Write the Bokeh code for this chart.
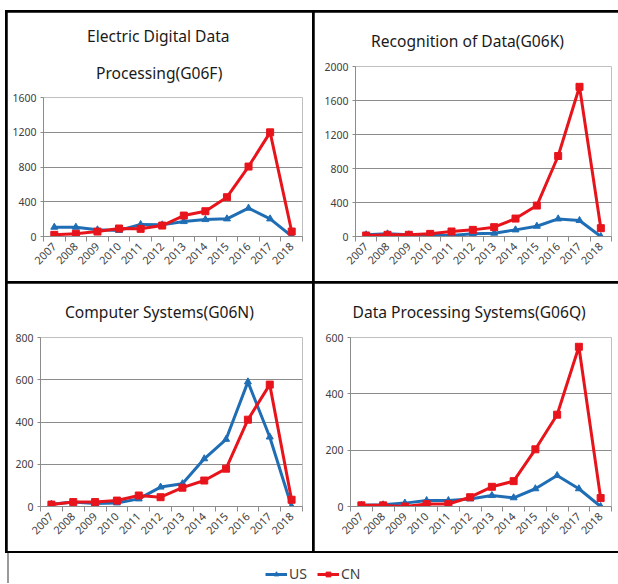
from bokeh.plotting import figure
from bokeh.models import (Range1d, FixedTicker, Title, Legend, LegendItem, ColumnDataSource)
from bokeh.layouts import column, row
from bokeh.embed import file_html
from bokeh.resources import INLINE

years = ["2007", "2008", "2009", "2010", "2011", "2012", "2013", "2014", "2015", "2016", "2017", "2018"]

g06f_us = [107, 107, 77, 70, 138, 134, 172, 195, 203, 326, 203, 4]
g06f_cn = [19, 31, 57, 92, 88, 126, 241, 291, 452, 805, 1199, 57]

g06k_us = [20, 31, 20, 12, 12, 31, 39, 78, 121, 207, 188, 0]
g06k_cn = [12, 20, 20, 31, 59, 78, 110, 211, 364, 947, 1761, 98]

g06n_us = [11, 21, 14, 17, 36, 92, 108, 226, 318, 590, 329, 0]
g06n_cn = [9, 21, 21, 28, 52, 44, 89, 123, 179, 411, 577, 32]

g06q_us = [4, 6, 12, 21, 21, 27, 39, 31, 63, 110, 63, 0]
g06q_cn = [4, 4, 0, 9, 9, 33, 70, 90, 203, 326, 567, 30]

titles = [["Electric Digital Data", "Processing(G06F)"],
          ["Recognition of Data(G06K)"],
          ["Computer Systems(G06N)"],
          ["Data Processing Systems(G06Q)"]]
y_max = [1600, 2000, 800, 600]
y_step = [400, 400, 200, 200]
series_names = ["US", "CN"]

US_COLOR = "#1F6EB5"
CN_COLOR = "#E8141C"
FONT = "Noto Sans"
GRID = "#8C8C8C"
TXT = "#404040"
TFS = "15.6px"


def panel(w, h, tlines, ymax, ystep, us, cn, borders, offsets, standoffs):
    bl, br, bt, bb = borders
    p = figure(width=w, height=h, output_backend="svg", toolbar_location=None,
               x_range=Range1d(-0.5, len(years) - 0.5), y_range=Range1d(0, ymax),
               min_border_left=bl, min_border_right=br, min_border_top=bt, min_border_bottom=bb)
    p.outline_line_color = None
    p.background_fill_color = "white"
    p.border_fill_color = "white"
    xs = list(range(len(years)))
    src = ColumnDataSource(dict(x=xs, us=us, cn=cn))
    p.line("x", "us", source=src, color=US_COLOR, line_width=3)
    p.scatter("x", "us", source=src, marker="triangle", size=7, color=US_COLOR)
    p.line("x", "cn", source=src, color=CN_COLOR, line_width=3)
    p.scatter("x", "cn", source=src, marker="square", size=7, color=CN_COLOR)

    p.xaxis.ticker = FixedTicker(ticks=xs, minor_ticks=[i - 0.5 for i in range(len(years) + 1)])
    p.xaxis.major_label_overrides = {i: y for i, y in enumerate(years)}
    p.xaxis.major_label_orientation = 0.785
    p.xaxis.major_tick_line_color = None
    p.xaxis.minor_tick_line_color = GRID
    p.xaxis.minor_tick_out = 5
    p.xaxis.minor_tick_in = 0
    p.xaxis.axis_line_color = GRID
    p.xaxis.major_label_standoff = 2
    p.xaxis.major_label_text_font = FONT
    p.xaxis.major_label_text_font_size = "11px"
    p.xaxis.major_label_text_color = TXT

    p.yaxis.ticker = FixedTicker(ticks=list(range(0, ymax + 1, ystep)))
    p.yaxis.minor_tick_line_color = None
    p.yaxis.major_tick_line_color = GRID
    p.yaxis.major_tick_out = 3
    p.yaxis.major_tick_in = 0
    p.yaxis.axis_line_color = GRID
    p.yaxis.major_label_standoff = 4
    p.yaxis.major_label_text_font = FONT
    p.yaxis.major_label_text_font_size = "10.5px"
    p.yaxis.major_label_text_color = TXT

    p.xgrid.grid_line_color = None
    p.ygrid.grid_line_color = GRID
    p.ygrid.grid_line_width = 1

    # first line is the plot's own title (outermost); further lines sit closer to the frame
    p.title.text = tlines[0]
    p.title.align = "left"
    p.title.offset = offsets[0]
    p.title.standoff = standoffs[0]
    p.title.text_font = FONT
    p.title.text_font_size = TFS
    p.title.text_font_style = "normal"
    p.title.text_color = "#1A1A1A"
    for t, off, so in zip(tlines[1:], offsets[1:], standoffs[1:]):
        p.add_layout(Title(text=t, align="left", offset=off, standoff=so,
                           text_font=FONT, text_font_size=TFS, text_font_style="normal",
                           text_color="#1A1A1A"), "above")
    return p


p1 = panel(305, 269, titles[0], y_max[0], y_step[0], g06f_us, g06f_cn, (36, 10, 85, 45), [43.5, 52.5], [0, 27])
p2 = panel(304, 269, titles[1], y_max[1], y_step[1], g06k_us, g06k_cn, (41, 7, 54, 45), [15.5], [30])
p3 = panel(305, 268, titles[2], y_max[2], y_step[2], g06n_us, g06n_cn, (33, 10, 54, 45), [24.5], [30])
p4 = panel(304, 268, titles[3], y_max[3], y_step[3], g06q_us, g06q_cn, (36, 7, 54, 45), [2], [29])

# legend strip
lg = figure(width=609, height=30, output_backend="svg", toolbar_location=None,
            min_border=0, x_range=Range1d(0, 1), y_range=Range1d(0, 1), margin=(0, 0, 0, 7),
            styles={"border-left": "2px solid #9A9A9A"})
lg.axis.visible = False
lg.grid.visible = False
lg.outline_line_color = None
off = ColumnDataSource(dict(x=[5, 6], y=[5, 6]))
r_us_l = lg.line("x", "y", source=off, color=US_COLOR, line_width=3)
r_us_s = lg.scatter("x", "y", source=off, marker="triangle", size=6, color=US_COLOR)
r_cn_l = lg.line("x", "y", source=off, color=CN_COLOR, line_width=3)
r_cn_s = lg.scatter("x", "y", source=off, marker="square", size=6, color=CN_COLOR)
legend = Legend(items=[LegendItem(label=series_names[0], renderers=[r_us_l, r_us_s]),
                       LegendItem(label=series_names[1], renderers=[r_cn_l, r_cn_s])],
                orientation="horizontal", location=(256, 0), border_line_color=None,
                background_fill_alpha=0, glyph_width=22, glyph_height=12, label_standoff=2,
                spacing=8, padding=2, margin=0,
                label_text_font=FONT, label_text_font_size="14px", label_text_color=TXT)
lg.add_layout(legend, "center")

top = column(row(column(p1), column(p2), spacing=2), row(column(p3), column(p4), spacing=2),
             spacing=2, margin=(10, 0, 0, 5),
             styles={"background-color": "black", "padding": "2px 0px 2px 2px"})
page = column(top, lg, spacing=0)

open("out.html", "w").write(file_html(page, INLINE))
